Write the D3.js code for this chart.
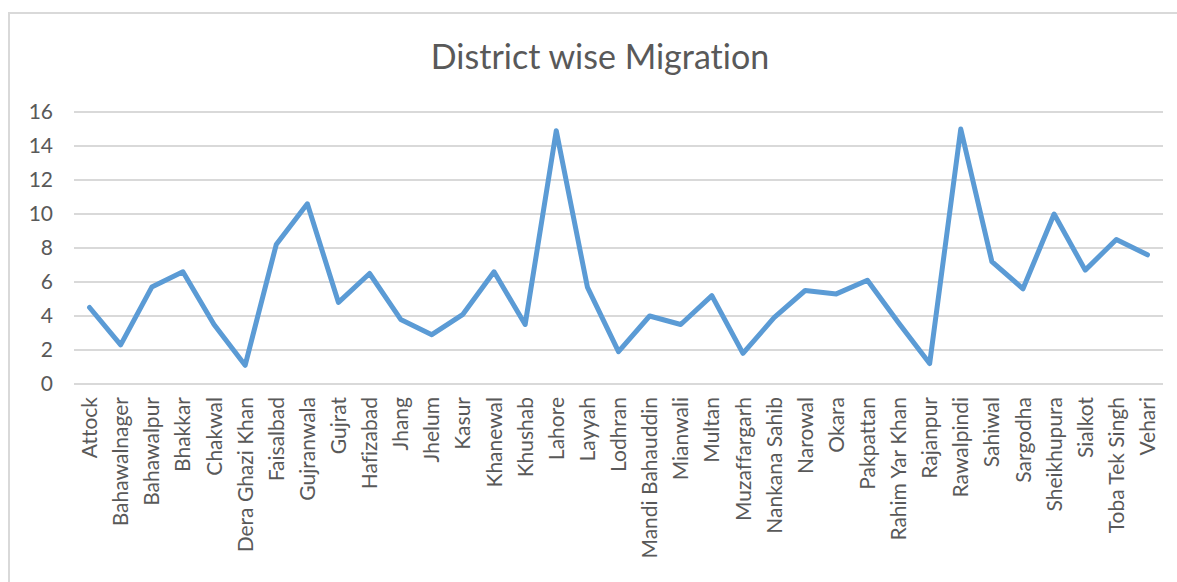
<!DOCTYPE html>
<html>
<head>
<meta charset="utf-8">
<script src="https://cdn.jsdelivr.net/npm/d3@7"></script>
<style>
  html, body { margin: 0; padding: 0; background: #ffffff; }
  svg { display: block; }
  text { font-variant-ligatures: none; font-feature-settings: "liga" 0; }
</style>
</head>
<body>
<svg id="chart" width="1177" height="582"></svg>
<script>
const title = "District wise Migration";
const districts = ["Attock","Bahawalnager","Bahawalpur","Bhakkar","Chakwal","Dera Ghazi Khan","Faisalbad","Gujranwala","Gujrat","Hafizabad","Jhang","Jhelum","Kasur","Khanewal","Khushab","Lahore","Layyah","Lodhran","Mandi Bahauddin","Mianwali","Multan","Muzaffargarh","Nankana Sahib","Narowal","Okara","Pakpattan","Rahim Yar Khan","Rajanpur","Rawalpindi","Sahiwal","Sargodha","Sheikhupura","Sialkot","Toba Tek Singh","Vehari"];
const migration = [4.5,2.3,5.7,6.6,3.5,1.1,8.2,10.6,4.8,6.5,3.8,2.9,4.1,6.6,3.5,14.9,5.7,1.9,4.0,3.5,5.2,1.8,3.9,5.5,5.3,6.1,3.6,1.2,15.0,7.2,5.6,10.0,6.7,8.5,7.6];
const yTicks = [0,2,4,6,8,10,12,14,16];

const svg = d3.select("#chart");
const font = "Lato, 'Open Sans', sans-serif";
const textColor = "#595959";

// chart area border
svg.append("rect")
  .attr("x", 9).attr("y", 13).attr("width", 1300).attr("height", 700)
  .attr("fill", "none").attr("stroke", "#d9d9d9").attr("stroke-width", 2);

const x = d3.scaleBand().domain(districts).range([74, 1163]);
const y = d3.scaleLinear().domain([0, 16]).range([384, 112]);

// gridlines
svg.append("g").selectAll("line").data(yTicks).join("line")
  .attr("x1", 74).attr("x2", 1163)
  .attr("y1", d => y(d)).attr("y2", d => y(d))
  .attr("stroke", "#d9d9d9").attr("stroke-width", 2);

// y axis labels
const yAxis = svg.append("g")
  .attr("transform", "translate(53,0)")
  .call(d3.axisLeft(y).tickValues(yTicks).tickSize(0).tickPadding(0));
yAxis.select(".domain").remove();
yAxis.selectAll("text")
  .attr("font-family", font).attr("font-size", 21).attr("fill", textColor);

// x axis labels
const xAxis = svg.append("g")
  .attr("transform", "translate(0,397)")
  .call(d3.axisBottom(x).tickSize(0).tickPadding(0));
xAxis.select(".domain").remove();
xAxis.selectAll("text")
  .attr("font-family", font).attr("font-size", 21).attr("fill", textColor)
  .attr("text-anchor", "end")
  .attr("transform", "rotate(-90)")
  .attr("x", 0).attr("y", 0).attr("dy", "0.36em");

// line
const line = d3.line()
  .x((d, i) => x(districts[i]) + x.bandwidth() / 2)
  .y(d => y(d));
svg.append("path")
  .datum(migration)
  .attr("d", line)
  .attr("fill", "none")
  .attr("stroke", "#5b9bd5")
  .attr("stroke-width", 5)
  .attr("stroke-linejoin", "round")
  .attr("stroke-linecap", "round");

// title
svg.append("text")
  .attr("x", 600).attr("y", 69)
  .attr("text-anchor", "middle")
  .attr("font-family", font).attr("font-size", 34)
  .attr("fill", textColor)
  .text(title);
</script>
</body>
</html>
